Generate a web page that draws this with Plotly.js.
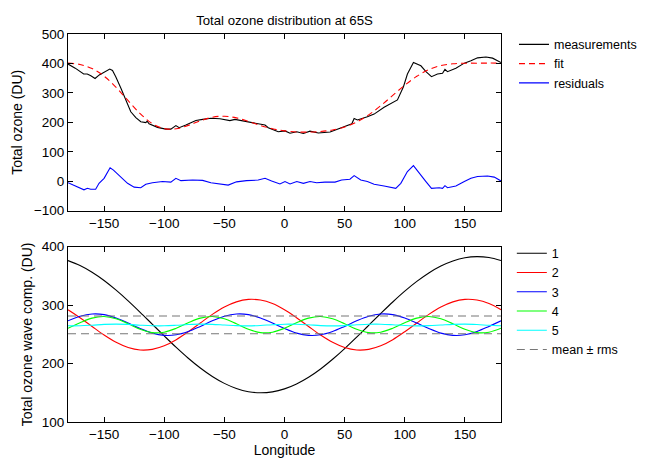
<!DOCTYPE html>
<html>
<head>
<meta charset="utf-8">
<script src="https://cdn.plot.ly/plotly-3.0.1.min.js"></script>
<style>html,body{margin:0;padding:0;background:#fff;}#chart{width:654px;height:458px;}</style>
</head>
<body>
<div id="chart"></div>
<script>
const measLon = [-180,-174,-167,-164,-161,-157.5,-154,-150,-145.3,-143,-140.3,-136,-132,-127.8,-123.6,-119.5,-115.3,-114.2,-112.6,-105.6,-98.7,-94.5,-90.3,-87.6,-82,-73.7,-68,-61.2,-53.7,-45.4,-41.2,-34.3,-26,-16.2,-13.5,-5.2,0.4,4.6,10.2,15.7,21.2,28.1,37.9,44.8,51.8,56,57.9,60.6,68.9,74.5,82.8,88.4,93.9,98.9,102.2,107.2,113.4,117.6,122.2,127.2,131.4,133.4,135.5,142.5,149.5,155,160.5,167.5,173,180];
const measVal = [398,384,364,364,358,349,361,370,381,376,355,316,276,236,216,202,199,204,195,183,177,177,189,182,191,206,210,214,212,206,210,205,200,191,182,168,171,163,168,162,170,164,167,177,188,195,213,208,219,228,251,263,276,321,364,403,392,372,355,364,367,380,372,384,401,409,419,422,418,403];

const fitLon = [-180,-170,-160,-150,-140,-130,-120,-110,-100,-90,-80,-70,-60,-50,-40,-30,-20,-10,0,10,20,30,40,50,60,70,80,90,100,110,120,130,140,150,160,170,180];
const fitVal = [401.0,396.4,382.7,356.8,318.6,273.6,229.7,196.1,178.7,178.1,189.7,205.3,217.3,220.8,215.2,203.2,189.5,178.3,171.0,167.4,166.9,168.8,174.2,184.2,201.1,225.5,256.5,291.5,326.1,356.3,379.1,392.8,399.0,400.8,400.9,401.3,401.0];

const resLon = [-180,-173.6,-166.7,-163.9,-161.1,-157,-154.2,-150,-145,-142.2,-136.1,-130.5,-125,-119.5,-115.3,-109.8,-101.4,-94.5,-90.3,-86.1,-76.4,-68.1,-61.2,-53.7,-46.8,-39.9,-31.6,-21.9,-16.2,-10.7,-3.8,0.4,4.6,10.2,15.7,21.2,26.7,33.6,42,47.5,54.4,57.9,60.1,63.4,68.9,74.5,82.8,88.4,92.5,96.7,102.2,107.2,111.9,117.6,122.2,128.6,131.4,133.4,135.5,142.5,149.5,155,160.5,168.8,174.4,180];
const resVal = [-5,-16,-29,-24,-27,-27,-7,10,46,38,16,-7,-20,-22,-10,-5,-1,-3,10,2,4,3,-5,-10,-13,-2,2,4,10,1,-9,-1,-9,-1,-7,-1,-5,-3,-3,4,7,19,12,4,-1,-10,-16,-22,-24,-7,33,53,27,-1,-24,-22,-24,-15,-22,-16,-1,10,16,18,14,1];

// ---- Bottom panel: wave components (10 deg samples) ----
const waveLon = fitLon;
const wave1 = [376.3,367.9,356.4,342.2,325.6,307.3,287.7,267.5,247.3,227.6,209.1,192.4,177.9,166.1,157.4,151.9,150.0,151.6,156.7,165.1,176.6,190.8,207.4,225.7,245.3,265.5,285.7,305.4,323.9,340.6,355.1,366.9,375.6,381.1,383.0,381.4,376.3];
const wave2 = [292.1,278.5,263.5,248.8,236.3,227.4,223.2,224.3,230.4,240.9,254.5,269.5,284.2,296.7,305.6,309.8,308.7,302.6,292.1,278.5,263.5,248.8,236.3,227.4,223.2,224.3,230.4,240.9,254.5,269.5,284.2,296.7,305.6,309.8,308.7,302.6,292.1];
const wave3 = [273.1,280.9,284.8,283.8,278.1,269.4,259.9,252.1,248.2,249.2,254.9,263.6,273.1,280.9,284.8,283.8,278.1,269.4,259.9,252.1,248.2,249.2,254.9,263.6,273.1,280.9,284.8,283.8,278.1,269.4,259.9,252.1,248.2,249.2,254.9,263.6,273.1];
const wave4 = [260.4,269.9,277.8,280.5,276.6,268.0,258.7,253.0,253.7,260.4,269.9,277.8,280.5,276.6,268.0,258.7,253.0,253.7,260.4,269.9,277.8,280.5,276.6,268.0,258.7,253.0,253.7,260.4,269.9,277.8,280.5,276.6,268.0,258.7,253.0,253.7,260.4];
const wave5 = [264.6,264.7,265.7,267.0,267.5,267.0,265.7,264.7,264.6,265.5,266.8,267.5,267.1,266.0,264.9,264.5,265.2,266.5,267.4,267.3,266.3,265.0,264.5,265.0,266.3,267.3,267.4,266.5,265.2,264.5,264.9,266.0,267.1,267.5,266.8,265.5,264.6];
const rmsLon = [-180,180,null,-180,180];
const rmsVal = [281.5,281.5,null,251,251];

const waveNames = ['1','2','3','4','5'];
const waveColors = ['#000000','#ff0000','#0000ff','#00ff00','#00ffff'];
const waveData = [wave1,wave2,wave3,wave4,wave5];

const traces = [
  {x: measLon, y: measVal, name: 'measurements', type: 'scatter', mode: 'lines', line: {color: '#000', width: 1.1}, xaxis: 'x', yaxis: 'y', legend: 'legend'},
  {x: fitLon, y: fitVal, name: 'fit', type: 'scatter', mode: 'lines', line: {color: '#ff0000', width: 1.1, dash: '6px,4px', shape: 'spline'}, xaxis: 'x', yaxis: 'y', legend: 'legend'},
  {x: resLon, y: resVal, name: 'residuals', type: 'scatter', mode: 'lines', line: {color: '#0000ff', width: 1.1}, xaxis: 'x', yaxis: 'y', legend: 'legend'}
];
waveData.forEach((w, i) => {
  traces.push({x: waveLon, y: w, name: waveNames[i], type: 'scatter', mode: 'lines', line: {color: waveColors[i], width: 1.1, shape: 'spline'}, xaxis: 'x2', yaxis: 'y2', legend: 'legend2'});
});
traces.push({x: rmsLon, y: rmsVal, name: 'mean \u00b1 rms', type: 'scatter', mode: 'lines', connectgaps: false, line: {color: '#777777', width: 1.1, dash: '8px,5px'}, xaxis: 'x2', yaxis: 'y2', legend: 'legend2'});

const axBase = {showline: true, linecolor: '#000', linewidth: 1, mirror: 'ticks', ticks: 'inside', ticklen: 5, tickcolor: '#000', showgrid: false, zeroline: false, tickfont: {size: 13.5}};
const legBase = {xref: 'paper', yref: 'paper', xanchor: 'left', yanchor: 'top', bgcolor: 'rgba(0,0,0,0)', borderwidth: 0, font: {size: 12.5}, tracegroupgap: 0};

const layout = {
  width: 654, height: 458,
  paper_bgcolor: '#fff', plot_bgcolor: '#fff',
  margin: {l: 68, r: 153, t: 34, b: 36},
  font: {family: '"Liberation Sans", Arial, sans-serif', size: 13, color: '#000'},
  title: {text: 'Total ozone distribution at 65S', x: 0.5, xref: 'paper', y: 1 - 20/458, yref: 'container', yanchor: 'middle', font: {size: 13.2}},
  xaxis: Object.assign({}, axBase, {domain: [0, 1], anchor: 'y', range: [-180, 180], tickvals: [-150,-100,-50,0,50,100,150]}),
  yaxis: Object.assign({}, axBase, {domain: [0.5446, 1], anchor: 'x', range: [-100, 500], dtick: 100, title: {text: 'Total ozone (DU)', font: {size: 14}, standoff: 7}}),
  xaxis2: Object.assign({}, axBase, {domain: [0, 1], anchor: 'y2', range: [-180, 180], tickvals: [-150,-100,-50,0,50,100,150], title: {text: 'Longitude', font: {size: 14}, standoff: 1}}),
  yaxis2: Object.assign({}, axBase, {domain: [0, 0.4518], anchor: 'x2', range: [100, 400], dtick: 100, title: {text: 'Total ozone wave comp. (DU)', font: {size: 14}, standoff: 5}}),
  legend: Object.assign({}, legBase, {x: 1.03, y: 1.011}),
  legend2: Object.assign({}, legBase, {x: 1.025, y: 0.4726}),
  showlegend: true
};

Plotly.newPlot('chart', traces, layout, {displayModeBar: false, staticPlot: true});
</script>
</body>
</html>
